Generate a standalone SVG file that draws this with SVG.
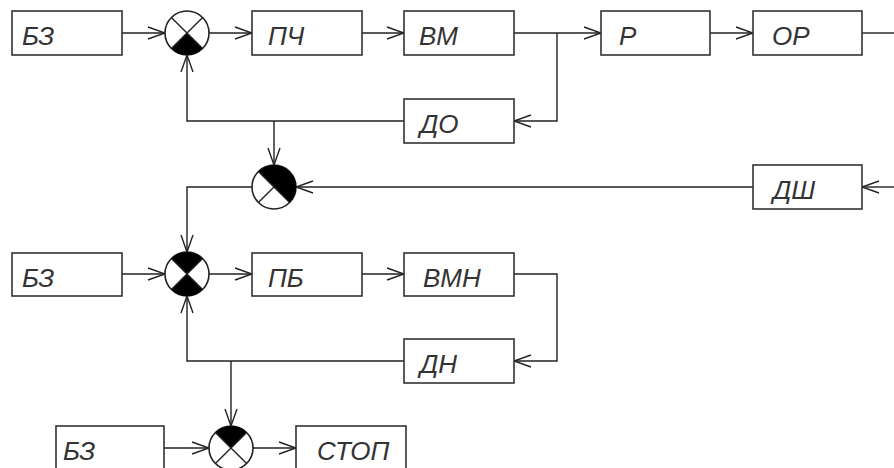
<svg xmlns="http://www.w3.org/2000/svg" width="894" height="468" viewBox="0 0 894 468">
<defs>
<style>
.box{fill:#fff;stroke:#333;stroke-width:1.6}
.lbl{font-family:"Liberation Sans",Arial,sans-serif;font-style:italic;font-size:26px;fill:#333}
.ln{fill:none;stroke:#222;stroke-width:1.4}
.sum{fill:#fff;stroke:#222;stroke-width:1.6}
.x{stroke:#222;stroke-width:1.4}
.blk{fill:#000}
</style>
<marker id="ah" markerUnits="userSpaceOnUse" markerWidth="20" markerHeight="14" viewBox="-18 -7 20 14" refX="0" refY="0" orient="auto">
<path d="M-17,-6 L0,0 L-17,6" fill="none" stroke="#222" stroke-width="1.4"/>
</marker>
</defs>
<rect width="894" height="468" fill="#fff"/>
<g id="connectors">
<path class="ln" d="M122,33 H165" marker-end="url(#ah)"/>
<path class="ln" d="M209,33 H252" marker-end="url(#ah)"/>
<path class="ln" d="M362,33 H404" marker-end="url(#ah)"/>
<path class="ln" d="M514,33 H601" marker-end="url(#ah)"/>
<path class="ln" d="M557,33 V121 H514" marker-end="url(#ah)"/>
<path class="ln" d="M710,33 H753" marker-end="url(#ah)"/>
<path class="ln" d="M862,33 H894"/>
<path class="ln" d="M404,121 H187 V55" marker-end="url(#ah)"/>
<path class="ln" d="M274,121 V165" marker-end="url(#ah)"/>
<path class="ln" d="M894,187 H862" marker-end="url(#ah)"/>
<path class="ln" d="M753,187 H296" marker-end="url(#ah)"/>
<path class="ln" d="M252,187 H187 V252" marker-end="url(#ah)"/>
<path class="ln" d="M122,274 H165" marker-end="url(#ah)"/>
<path class="ln" d="M209,274 H252" marker-end="url(#ah)"/>
<path class="ln" d="M362,274 H404" marker-end="url(#ah)"/>
<path class="ln" d="M514,274 H557 V361 H514" marker-end="url(#ah)"/>
<path class="ln" d="M404,361 H187 V296" marker-end="url(#ah)"/>
<path class="ln" d="M231,361 V426" marker-end="url(#ah)"/>
<path class="ln" d="M164,448 H209" marker-end="url(#ah)"/>
<path class="ln" d="M253,448 H296" marker-end="url(#ah)"/>
</g>
<g id="bz1"><rect class="box" x="12" y="11" width="110" height="44"/><text class="lbl" x="22" y="45">БЗ</text></g>
<g id="pch"><rect class="box" x="252" y="11" width="110" height="44"/><text class="lbl" x="268" y="45">ПЧ</text></g>
<g id="vm"><rect class="box" x="404" y="11" width="110" height="44"/><text class="lbl" x="419" y="45">ВМ</text></g>
<g id="r"><rect class="box" x="601" y="11" width="109" height="44"/><text class="lbl" x="619" y="45">Р</text></g>
<g id="or"><rect class="box" x="753" y="11" width="109" height="44"/><text class="lbl" x="772" y="45">ОР</text></g>
<g id="do"><rect class="box" x="404" y="99" width="110" height="44"/><text class="lbl" x="420" y="133">ДО</text></g>
<g id="dsh"><rect class="box" x="753" y="165" width="109" height="44"/><text class="lbl" x="773" y="199">ДШ</text></g>
<g id="bz2"><rect class="box" x="12" y="253" width="110" height="43"/><text class="lbl" x="22" y="287">БЗ</text></g>
<g id="pb"><rect class="box" x="252" y="253" width="110" height="43"/><text class="lbl" x="268" y="287">ПБ</text></g>
<g id="vmn"><rect class="box" x="404" y="253" width="110" height="43"/><text class="lbl" x="423" y="287">ВМН</text></g>
<g id="dn"><rect class="box" x="404" y="339" width="110" height="44"/><text class="lbl" x="420" y="373">ДН</text></g>
<g id="bz3"><rect class="box" x="56" y="426" width="108" height="50"/><text class="lbl" x="63" y="460">БЗ</text></g>
<g id="stop"><rect class="box" x="296" y="426" width="110" height="50"/><text class="lbl" x="317" y="460">СТОП</text></g>
<g id="sum1">
<circle class="sum" cx="187" cy="33" r="22"/>
<path class="blk" d="M187,33 L171.4,48.6 A22,22 0 0 0 202.6,48.6 Z"/>
<path class="x" d="M171.4,17.4 L202.6,48.6 M202.6,17.4 L171.4,48.6"/>
</g>
<g id="sum2">
<circle class="sum" cx="274" cy="187" r="22"/>
<path class="blk" d="M258.4,171.4 A22,22 0 0 1 289.6,202.6 Z"/>
<path class="x" d="M258.4,171.4 L289.6,202.6 M274,187 L258.4,202.6"/>
</g>
<g id="sum3">
<circle class="sum" cx="187" cy="274" r="22"/>
<path class="blk" d="M187,274 L171.4,258.4 A22,22 0 0 1 202.6,258.4 Z M187,274 L171.4,289.6 A22,22 0 0 0 202.6,289.6 Z"/>
<path class="x" d="M171.4,258.4 L202.6,289.6 M202.6,258.4 L171.4,289.6"/>
</g>
<g id="sum4">
<circle class="sum" cx="231" cy="448" r="22"/>
<path class="blk" d="M231,448 L215.4,432.4 A22,22 0 0 1 246.6,432.4 Z"/>
<path class="x" d="M215.4,432.4 L246.6,463.6 M246.6,432.4 L215.4,463.6"/>
</g>
</svg>
